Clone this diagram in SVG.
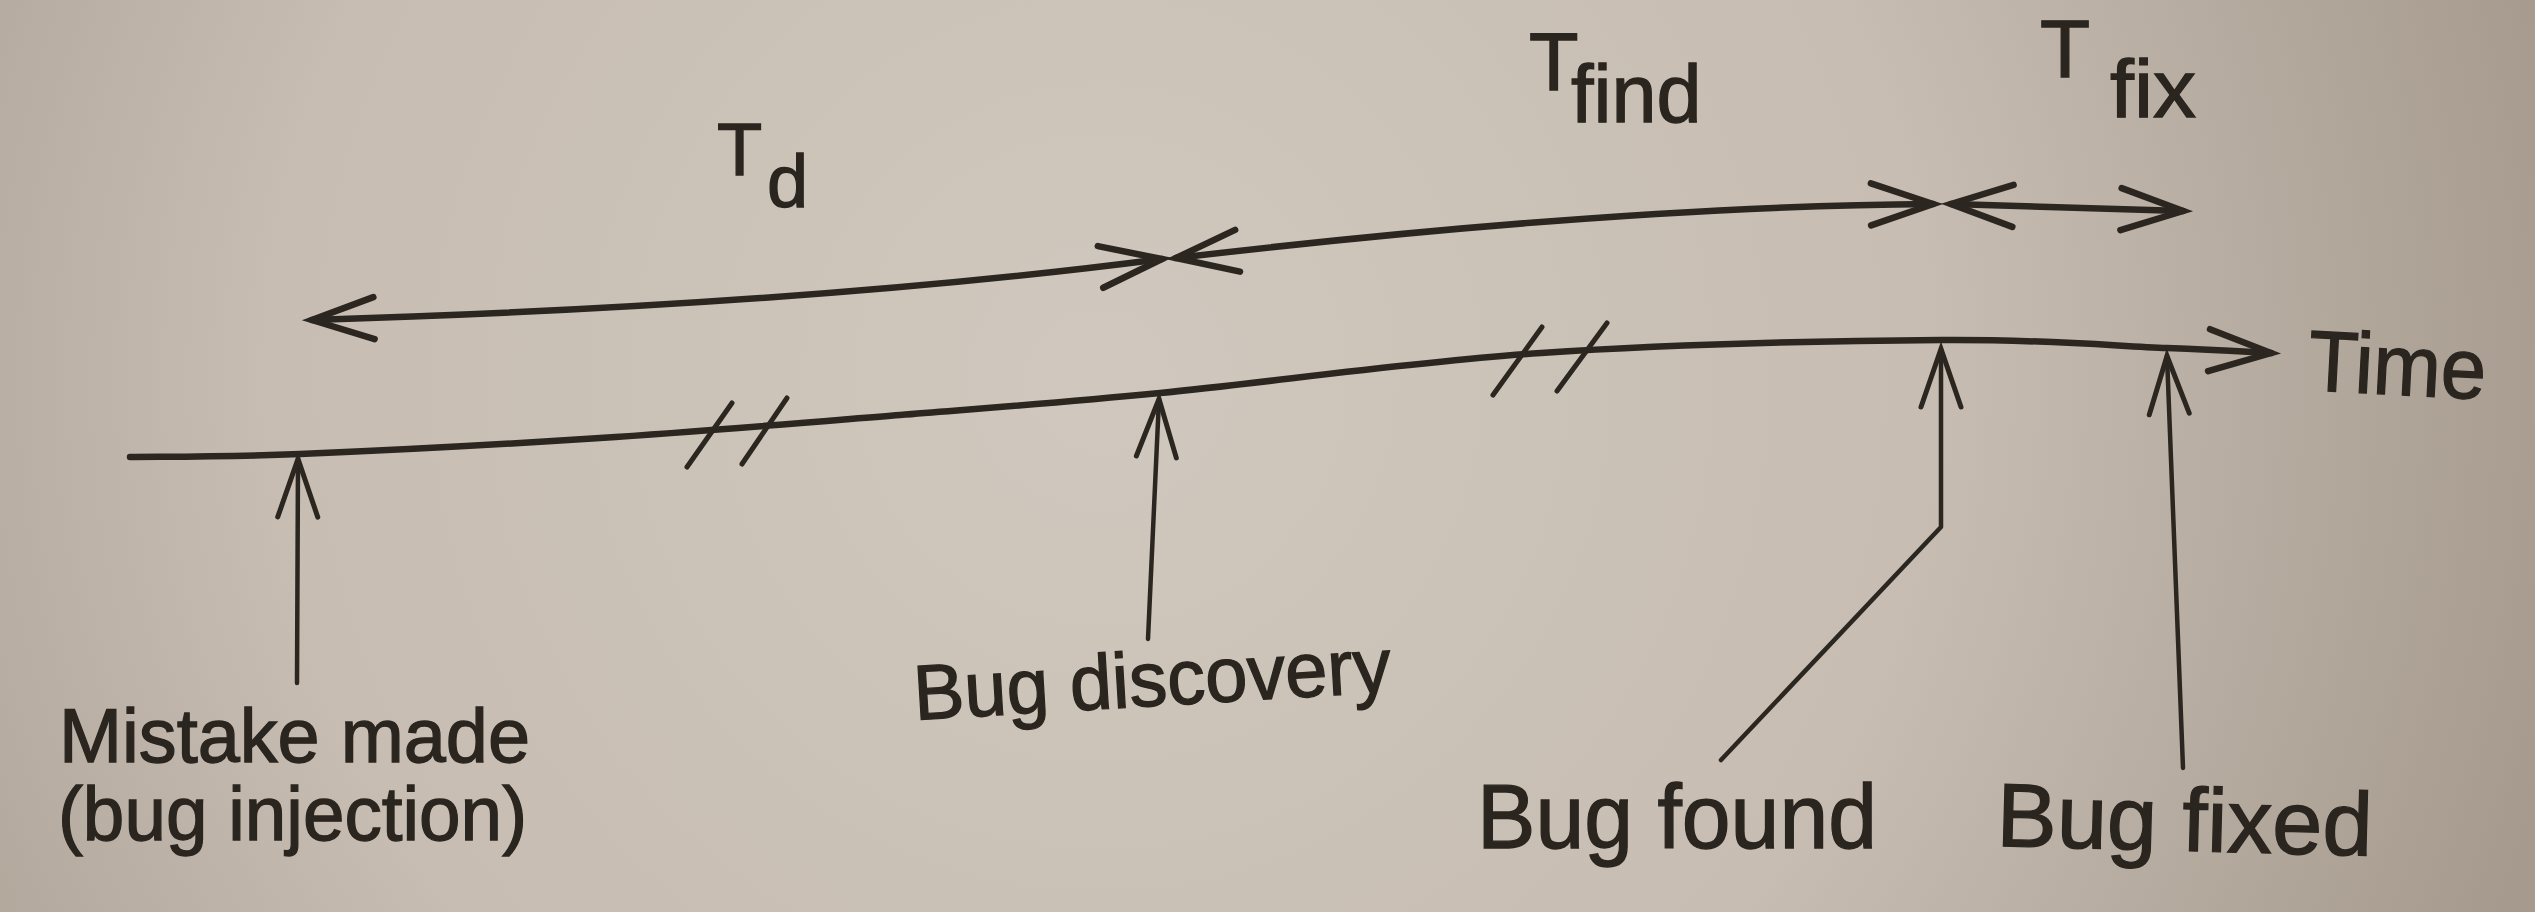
<svg xmlns="http://www.w3.org/2000/svg" width="2535" height="912" viewBox="0 0 2535 912">
  <style>
    .lbl { font-family: "Liberation Sans", Arial, Helvetica, sans-serif; fill: #2a251f; stroke: #2a251f; stroke-width: 1.3; }
    .line { fill: none; stroke: #2b2620; stroke-linecap: round; stroke-linejoin: round; }
    .main { stroke-width: 6.5; }
    .ptr { stroke-width: 4.5; }
    .hash { fill: none; stroke: #2b2620; stroke-width: 5; stroke-linecap: round; }
  </style>
  <defs>
    <radialGradient id="paper" cx="1100" cy="380" r="1500" gradientUnits="userSpaceOnUse">
      <stop offset="0" stop-color="#d0c8be"/>
      <stop offset="0.55" stop-color="#c7bdb2"/>
      <stop offset="1" stop-color="#a69a8e"/>
    </radialGradient>
    <marker id="arrow" markerUnits="userSpaceOnUse" markerWidth="90" markerHeight="70" viewBox="-75 -35 90 70" refX="0" refY="0" orient="auto-start-reverse" overflow="visible">
      <path d="M-62,-21 L0,0 L-62,21" fill="none" stroke="#2b2620" stroke-width="6.5" stroke-linecap="round" stroke-linejoin="miter"/>
    </marker>
    <marker id="ptrhead" markerUnits="userSpaceOnUse" markerWidth="90" markerHeight="70" viewBox="-75 -35 90 70" refX="0" refY="0" orient="auto" overflow="visible">
      <path d="M-58,-20 L0,0 L-58,20" fill="none" stroke="#2b2620" stroke-width="5" stroke-linecap="round" stroke-linejoin="miter"/>
    </marker>
  </defs>

  <rect x="0" y="0" width="2535" height="912" fill="url(#paper)"/>

  <g id="connectors">
    <!-- main time axis -->
    <path id="timeline" class="line main" marker-end="url(#arrow)"
      d="M130,457 C158.3,456.5 221.7,457.2 300,454 C378.3,450.8 500,444.5 600,438 C700,431.5 806.7,422.5 900,415 C993.3,407.5 1053.2,403.3 1160,393 C1266.8,382.7 1410.8,361.8 1541,353 C1671.2,344.2 1836.7,340.8 1941,340 C2045.3,339.2 2112,345.8 2167,348 C2222,350.2 2253.7,352.2 2271,353"/>
    <!-- break marks -->
    <g id="break1">
      <line class="hash" x1="687" y1="467" x2="732" y2="403"/>
      <line class="hash" x1="742" y1="464" x2="787" y2="398"/>
    </g>
    <g id="break2">
      <line class="hash" x1="1493" y1="395" x2="1542" y2="327"/>
      <line class="hash" x1="1557" y1="391" x2="1607" y2="323"/>
    </g>
    <!-- interval arrows -->
    <path id="td-span" class="line main" marker-start="url(#arrow)" marker-end="url(#arrow)" d="M312,320 Q807,305 1162,259"/>
    <path id="tfind-span" class="line main" marker-start="url(#arrow)" marker-end="url(#arrow)" d="M1176,258 Q1620,206 1933,204"/>
    <path id="tfix-span" class="line main" marker-start="url(#arrow)" marker-end="url(#arrow)" d="M1951,204 L2183,211"/>
    <!-- event pointers -->
    <path id="ptr-mistake" class="line ptr" marker-end="url(#ptrhead)" d="M297,683 L298,459"/>
    <path id="ptr-discovery" class="line ptr" marker-end="url(#ptrhead)" d="M1148,639 L1159,399"/>
    <path id="ptr-found" class="line ptr" marker-end="url(#ptrhead)" d="M1721,760 L1941,527 L1941,349"/>
    <path id="ptr-fixed" class="line ptr" marker-end="url(#ptrhead)" d="M2183,768 L2167,356"/>
  </g>

  <g id="label-td">
    <text class="lbl"><tspan x="717" y="175" font-size="74">T</tspan><tspan x="767" y="207" font-size="74">d</tspan></text>
  </g>
  <g id="label-tfind">
    <text class="lbl"><tspan x="1529" y="90" font-size="81">T</tspan><tspan x="1571" y="122" font-size="81">find</tspan></text>
  </g>
  <g id="label-tfix">
    <text class="lbl"><tspan x="2040" y="77" font-size="82">T</tspan><tspan x="2110" y="117" font-size="82" textLength="86" lengthAdjust="spacingAndGlyphs">fix</tspan></text>
  </g>
  <g id="label-time">
    <text class="lbl" x="2307" y="390" font-size="86" textLength="178" lengthAdjust="spacingAndGlyphs" transform="rotate(3 2307 390)">Time</text>
  </g>
  <g id="node-mistake">
    <text class="lbl" x="59" y="762" font-size="76" textLength="471" lengthAdjust="spacingAndGlyphs">Mistake made</text>
    <text class="lbl" x="58" y="840" font-size="76" textLength="469" lengthAdjust="spacingAndGlyphs">(bug injection)</text>
  </g>
  <g id="node-discovery">
    <text class="lbl" x="915" y="720" font-size="78" textLength="478" lengthAdjust="spacingAndGlyphs" transform="rotate(-3.4 915 720)">Bug discovery</text>
  </g>
  <g id="node-found">
    <text class="lbl" x="1477" y="848" font-size="90" textLength="400" lengthAdjust="spacingAndGlyphs">Bug found</text>
  </g>
  <g id="node-fixed">
    <text class="lbl" x="1996" y="846" font-size="90" textLength="376" lengthAdjust="spacingAndGlyphs" transform="rotate(1.5 1996 846)">Bug fixed</text>
  </g>
</svg>
